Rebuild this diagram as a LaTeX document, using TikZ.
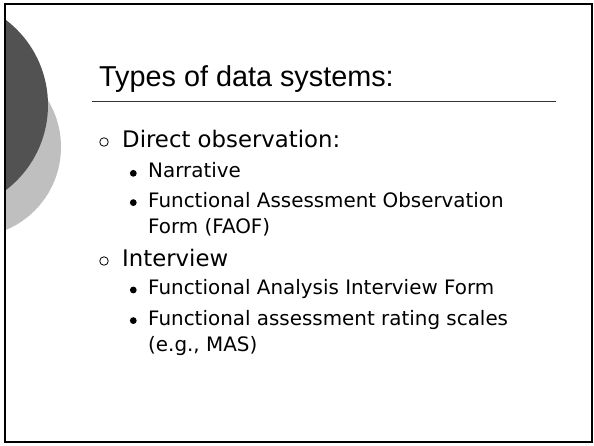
\documentclass[tikz,border=0pt]{standalone}
\usepackage{fontspec}
\setmainfont{DejaVu Sans}
\newfontfamily\titlefont{Liberation Sans}
\begin{document}
\begin{tikzpicture}[x=1pt,y=-1pt,
  lvlone/.style={anchor=base west,inner sep=0pt,font=\fontsize{22.8}{27}\selectfont},
  lvltwo/.style={anchor=base west,inner sep=0pt,font=\fontsize{19.9}{24}\selectfont},
  hollowbullet/.style={circle,draw=black,line width=0.8pt,minimum size=8.5pt,inner sep=0pt},
  solidbullet/.style={circle,fill=black,minimum size=6.8pt,inner sep=0pt}]
\useasboundingbox (0,0) rectangle (594,445);
\fill[white] (0,0) rectangle (594,445);
\begin{scope}
  \clip (5,4) rectangle (592,442);
  \fill[black!25] (-29,147) circle (90);
  \fill[black!68] (-59,105) circle (107);
\end{scope}
\draw[line width=2pt,black] (5,4) rectangle (592,442);
\node[anchor=base west,inner sep=0pt,font=\titlefont\fontsize{28.8}{34}\selectfont] (title) at (99,86.7) {Types of data systems:};
\coordinate (ulA) at (92,101);
\coordinate (ulB) at (556,101);
\draw[line width=1pt,black!80] (ulA) -- (ulB);

\node[hollowbullet] (b1) at (104,142) {};
\node[lvlone] (t1) at (122,147.3) {Direct observation:};
\node[solidbullet] (b2) at (133.3,173.3) {};
\node[lvltwo] (t2) at (148,177.7) {Narrative};
\node[solidbullet] (b3) at (133.3,202.6) {};
\node[lvltwo] (t3) at (148,207) {Functional Assessment Observation};
\node[lvltwo] (t3b) at (148,233.3) {Form (FAOF)};
\node[hollowbullet] (b4) at (104,261) {};
\node[lvlone] (t4) at (122,266) {Interview};
\node[solidbullet] (b5) at (133.3,290) {};
\node[lvltwo] (t5) at (148,294.3) {Functional Analysis Interview Form};
\node[solidbullet] (b6) at (133.3,320.6) {};
\node[lvltwo] (t6) at (148,325) {Functional assessment rating scales};
\node[lvltwo] (t6b) at (148,351.3) {(e.g., MAS)};
\end{tikzpicture}
\end{document}
